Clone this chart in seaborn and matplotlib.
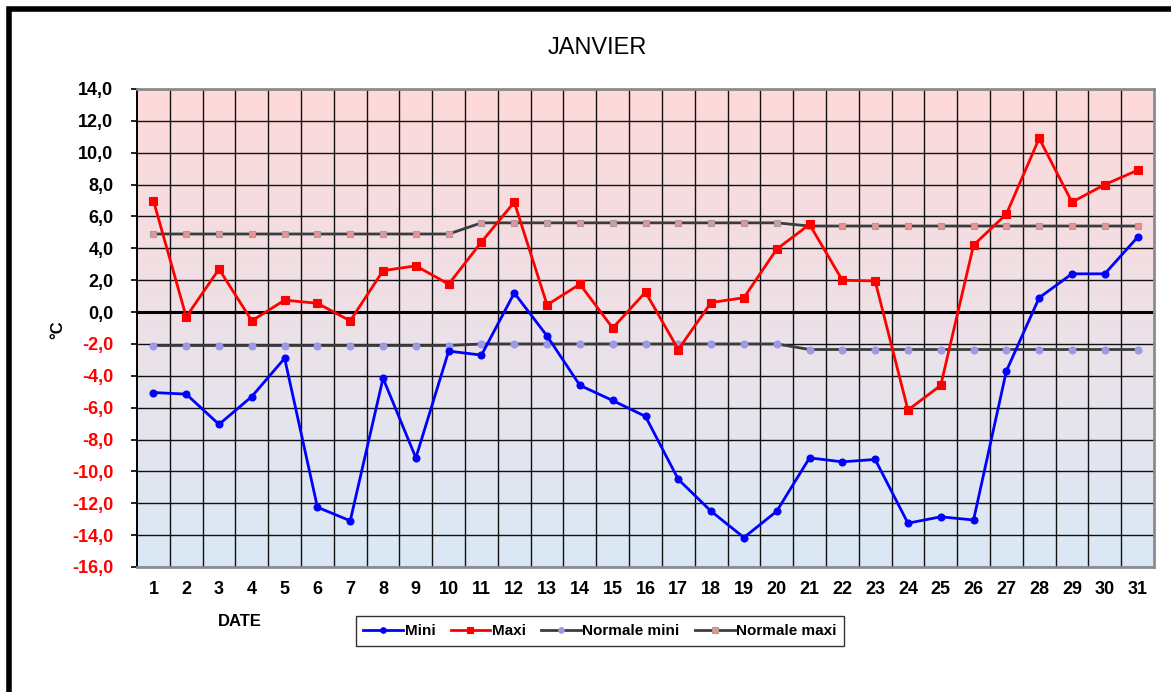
import numpy as np
import pandas as pd
import matplotlib
matplotlib.use("Agg")
import matplotlib.pyplot as plt
import seaborn as sns
from matplotlib.patches import Rectangle
from matplotlib.colors import to_rgb

# Daily temperatures for January (°C)
days = list(range(1, 32))
mini = [-5.05, -5.15, -7.05, -5.3, -2.9, -12.25, -13.1, -4.15, -9.15, -2.45,
        -2.7, 1.2, -1.5, -4.6, -5.55, -6.55, -10.5, -12.5, -14.15, -12.5,
        -9.15, -9.4, -9.25, -13.25, -12.85, -13.05, -3.7, 0.9, 2.4, 2.4, 4.7]
maxi = [7.0, -0.3, 2.7, -0.55, 0.75, 0.55, -0.55, 2.6, 2.9, 1.75,
        4.4, 6.9, 0.45, 1.75, -1.0, 1.25, -2.35, 0.6, 0.9, 3.95,
        5.5, 2.0, 1.95, -6.15, -4.6, 4.2, 6.15, 10.9, 6.9, 8.0, 8.9]
normale_mini = [-2.1, -2.1, -2.1, -2.1, -2.1, -2.1, -2.1, -2.1, -2.1, -2.1,
                -2.0, -2.0, -2.0, -2.0, -2.0, -2.0, -2.0, -2.0, -2.0, -2.0,
                -2.35, -2.35, -2.35, -2.35, -2.35, -2.35, -2.35, -2.35, -2.35, -2.35, -2.35]
normale_maxi = [4.9, 4.9, 4.9, 4.9, 4.9, 4.9, 4.9, 4.9, 4.9, 4.9,
                5.6, 5.6, 5.6, 5.6, 5.6, 5.6, 5.6, 5.6, 5.6, 5.6,
                5.4, 5.4, 5.4, 5.4, 5.4, 5.4, 5.4, 5.4, 5.4, 5.4, 5.4]
y_ticks = list(range(-16, 15, 2))

plt.rcParams['font.family'] = ['Liberation Sans', 'DejaVu Sans']

df = pd.DataFrame({
    "DATE": days * 4,
    "temp": mini + maxi + normale_mini + normale_maxi,
    "serie": (["Mini"] * 31 + ["Maxi"] * 31 +
              ["Normale mini"] * 31 + ["Normale maxi"] * 31),
})

fig = plt.figure(figsize=(11.71, 6.92), dpi=100)
ax = fig.add_axes([137 / 1171, 1 - 567 / 692, (1154 - 137) / 1171, (567 - 89) / 692])

# vertical gradient background, pink at the top to pale blue at the bottom
top = np.array(to_rgb("#ffd9d9"))
bot = np.array(to_rgb("#dae9f6"))
t = np.linspace(0, 1, 256)[:, None]
grad = (top[None, :] * (1 - t) + bot[None, :] * t)[:, None, :]
ax.imshow(grad, extent=[0, 1, 0, 1], transform=ax.transAxes,
          aspect="auto", interpolation="bilinear", zorder=0)

styles = {
    "Normale mini": dict(color="#3c3c3c", lw=2.0, marker="o", ms=5,
                         mfc="#9a9ae6", mec="#9a9ae6", z=3),
    "Normale maxi": dict(color="#3c3c3c", lw=2.0, marker="s", ms=5,
                         mfc="#f09090", mec="#a0a0a0", z=3),
    "Mini": dict(color="#0000ff", lw=2.0, marker="o", ms=5,
                 mfc="#0000ff", mec="#0000ff", z=4),
    "Maxi": dict(color="#ff0000", lw=2.0, marker="s", ms=5.5,
                 mfc="#ff0000", mec="#ff0000", z=4),
}
for name in ["Normale mini", "Normale maxi", "Mini", "Maxi"]:
    st = styles[name]
    sns.lineplot(data=df[df["serie"] == name], x="DATE", y="temp", ax=ax,
                 color=st["color"], linewidth=st["lw"], marker=st["marker"],
                 markersize=st["ms"], markerfacecolor=st["mfc"],
                 markeredgecolor=st["mec"], markeredgewidth=0.8,
                 label=name, zorder=st["z"], legend=False)

ax.set_xlim(0.5, 31.5)
ax.set_ylim(-16, 14)

# grid: cell boundaries between days, one line every 2 °C
ax.set_xticks(days)
ax.set_xticks(np.arange(1.5, 31, 1), minor=True)
ax.set_yticks(y_ticks)
ax.set_axisbelow(True)
ax.grid(which="minor", axis="x", color="#111111", lw=1.0)
ax.grid(which="major", axis="y", color="#111111", lw=1.0)
ax.axhline(0, color="black", lw=2.2, zorder=2)

ax.tick_params(axis="x", which="both", length=0, pad=10, labelsize=13)
ax.tick_params(axis="y", which="major", length=4, width=1.2, pad=13,
               labelsize=13, direction="out")
ax.set_xticklabels([str(d) for d in days], fontweight="bold")
ax.set_yticklabels([f"{v:.1f}".replace(".", ",") for v in y_ticks],
                   fontweight="bold")
for lab, v in zip(ax.get_yticklabels(), y_ticks):
    lab.set_color("#ff0000" if v < 0 else "black")

for side in ["top", "right", "bottom"]:
    ax.spines[side].set_color("#8c8c8c")
    ax.spines[side].set_linewidth(2)
ax.spines["left"].set_color("black")
ax.spines["left"].set_linewidth(1.4)

ax.set_xlabel("")
ax.set_ylabel("")
fig.text(58 / 1171, 1 - 330 / 692, "°C", rotation=90, ha="center", va="center",
         fontsize=12, fontweight="bold")
fig.text(240 / 1171, 1 - 622 / 692, "DATE", ha="center", va="center",
         fontsize=12, fontweight="bold")
fig.text(597 / 1171, 1 - 48 / 692, "JANVIER", ha="center", va="center",
         fontsize=17)

handles, labels = ax.get_legend_handles_labels()
order = ["Mini", "Maxi", "Normale mini", "Normale maxi"]
hmap = dict(zip(labels, handles))
leg = fig.legend([hmap[o] for o in order], order, loc="center",
                 bbox_to_anchor=(600 / 1171, 1 - 631 / 692), ncol=4,
                 frameon=True, fancybox=False, edgecolor="black",
                 prop={"weight": "bold", "size": 11}, handlelength=2.6,
                 handletextpad=0.1, columnspacing=1.0, borderpad=0.5,
                 markerscale=0.8)
leg.get_frame().set_linewidth(1.0)

# outer frame of the sheet
fig.patches.append(Rectangle((8.5 / 1171, -0.2), 1.5, 1.2 - 8.5 / 692,
                             transform=fig.transFigure, fill=False,
                             edgecolor="black", lw=4, zorder=10))

fig.savefig("out.png", dpi=100)
